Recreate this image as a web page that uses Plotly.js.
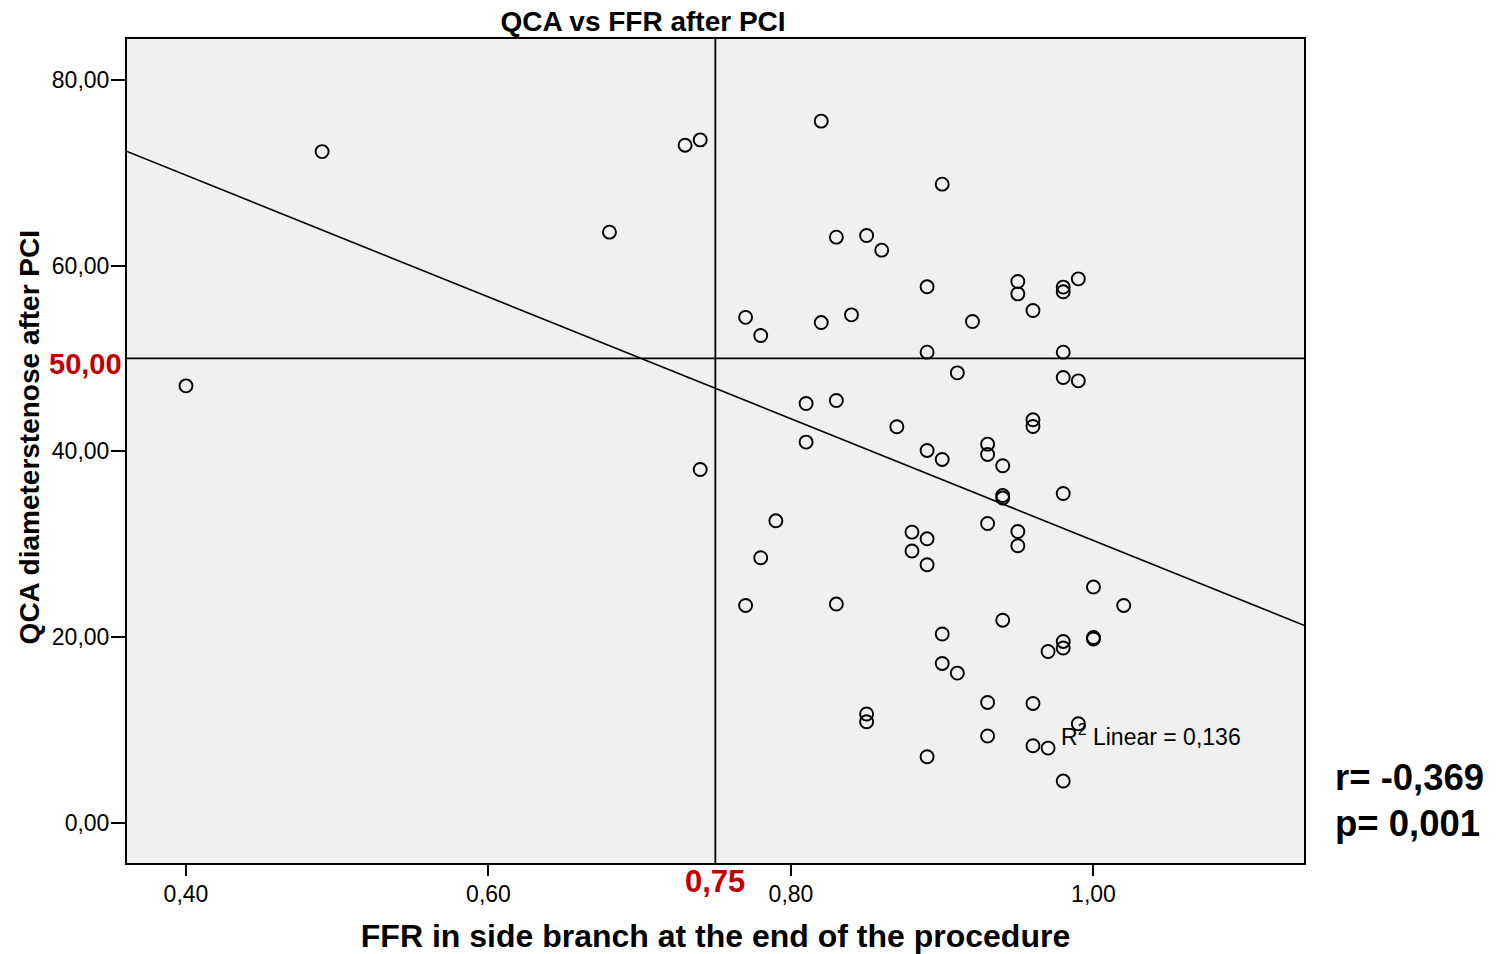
<!DOCTYPE html>
<html>
<head>
<meta charset="utf-8">
<script src="https://cdn.plot.ly/plotly-3.0.1.min.js"></script>
<style>
  html, body { margin: 0; padding: 0; background: #fff; overflow: hidden; }
</style>
</head>
<body>
<div id="chart" style="width:1501px;height:954px"></div>
<script>
// FFR measured in the side branch at the end of the procedure
const ffr = [
  0.40, 0.49, 0.68, 0.73, 0.74, 0.74, 0.77, 0.77, 0.78, 0.78,
  0.79, 0.81, 0.81, 0.82, 0.82, 0.83, 0.83, 0.83, 0.84, 0.85,
  0.85, 0.85, 0.86, 0.87, 0.88, 0.88, 0.89, 0.89, 0.89, 0.89,
  0.89, 0.89, 0.90, 0.90, 0.90, 0.90, 0.91, 0.91, 0.92, 0.93,
  0.93, 0.93, 0.93, 0.93, 0.94, 0.94, 0.94, 0.94, 0.95, 0.95,
  0.95, 0.95, 0.96, 0.96, 0.96, 0.96, 0.96, 0.97, 0.97, 0.98,
  0.98, 0.98, 0.98, 0.98, 0.98, 0.98, 0.98, 0.99, 0.99, 0.99,
  1.00, 1.00, 1.00, 1.02
];

// QCA diameter stenosis (%) after PCI, same order as ffr
const qcaStenosis = [
  47.05, 72.29, 63.61, 72.98, 73.55, 38.04, 54.43, 23.39, 52.47, 28.53,
  32.51, 45.15, 40.99, 75.57, 53.87, 63.07, 45.47, 23.54, 54.70, 63.25,
  11.69, 10.86, 61.67, 42.64, 31.29, 29.25, 57.72, 50.68, 40.09, 30.57,
  27.77,  7.09, 68.78, 39.12, 20.31, 17.14, 48.45, 16.10, 53.98, 40.77,
  39.66, 32.22, 12.94,  9.32, 38.44, 35.24, 34.96, 21.80, 58.29, 56.96,
  31.36, 29.82, 55.17, 43.39, 42.67, 12.83,  8.27, 18.43,  8.02, 57.69,
  57.18, 50.68, 47.95, 35.45, 19.51, 18.80,  4.47, 58.58, 47.59, 10.64,
  25.37, 19.94, 19.77, 23.39
];

const xTickVals = [0.40, 0.60, 0.80, 1.00];
const xTickText = ['0,40', '0,60', '0,80', '1,00'];
const yTickVals = [0, 20, 40, 60, 80];
const yTickText = ['0,00', '20,00', '40,00', '60,00', '80,00'];

// Cut-off reference values
const ffrCutoff = 0.75;
const ffrCutoffLabel = '0,75';
const stenosisCutoff = 50;
const stenosisCutoffLabel = '50,00';

// Linear fit of stenosis on FFR
const fitIntercept = 95.98;
const fitSlope = -65.6;
const fitLabel = 'R<sup>2</sup> Linear = 0,136';
const corrLabel = 'r= -0,369';
const pLabel = 'p= 0,001';

const chartTitle = 'QCA vs FFR after PCI';
const xTitle = 'FFR in side branch at the end of the procedure';
const yTitle = 'QCA diameterstenose after PCI';

const xRange = [0.361, 1.1392];
const yRange = [-4.36, 84.42];

const FONT = '"Liberation Sans", Arial, Helvetica, sans-serif';
const INK = '#000000';
const DARK_RED = '#c00000';

const points = {
  type: 'scatter',
  mode: 'markers',
  x: ffr,
  y: qcaStenosis,
  marker: { symbol: 'circle-open', size: 13, color: INK, line: { width: 1.9, color: INK } },
  hoverinfo: 'x+y'
};

const fitLine = {
  type: 'scatter',
  mode: 'lines',
  x: xRange,
  y: xRange.map(v => fitIntercept + fitSlope * v),
  line: { color: INK, width: 1.6 },
  hoverinfo: 'skip'
};

const axisBase = {
  ticks: 'outside',
  tickwidth: 2,
  tickcolor: INK,
  showline: true,
  mirror: true,
  linewidth: 2,
  linecolor: INK,
  showgrid: false,
  zeroline: false,
  tickfont: { family: FONT, size: 23, color: INK }
};

const layout = {
  width: 1501,
  height: 954,
  margin: { l: 127, r: 197, t: 39, b: 91 },
  paper_bgcolor: '#ffffff',
  plot_bgcolor: '#f0f0f0',
  showlegend: false,
  font: { family: FONT, color: INK },
  title: {
    text: chartTitle,
    font: { family: FONT, size: 28, weight: 'bold', color: INK },
    xref: 'container', x: 643 / 1501, xanchor: 'center',
    yref: 'container', y: 1 - 21 / 954, yanchor: 'middle'
  },
  xaxis: Object.assign({}, axisBase, {
    range: xRange,
    tickvals: xTickVals,
    ticktext: xTickText,
    ticklen: 11,
    ticklabelstandoff: -2,
    title: {
      text: xTitle,
      font: { family: FONT, size: 32, weight: 'bold', color: INK },
      standoff: 22
    }
  }),
  yaxis: Object.assign({}, axisBase, {
    range: yRange,
    tickvals: yTickVals,
    ticktext: yTickText,
    ticklen: 14,
    ticklabelstandoff: -3
  }),
  shapes: [
    { type: 'line', xref: 'x', yref: 'paper', x0: ffrCutoff, x1: ffrCutoff, y0: 0, y1: 1,
      line: { color: INK, width: 1.8 } },
    { type: 'line', xref: 'paper', yref: 'y', x0: 0, x1: 1, y0: stenosisCutoff, y1: stenosisCutoff,
      line: { color: INK, width: 1.8 } }
  ],
  annotations: [
    // vertical axis title, set a little above the plot centre
    { xref: 'paper', yref: 'paper', x: -0.0825, y: 0.5164, xanchor: 'center', yanchor: 'middle',
      textangle: -90, text: yTitle, showarrow: false,
      font: { family: FONT, size: 28, weight: 'bold', color: INK } },
    { xref: 'x', yref: 'paper', x: ffrCutoff, y: -0.023, xanchor: 'center', yanchor: 'middle',
      text: ffrCutoffLabel, showarrow: false,
      font: { family: FONT, size: 31, weight: 'bold', color: DARK_RED } },
    { xref: 'paper', yref: 'y', x: -0.0025, y: stenosisCutoff, yshift: -6, xanchor: 'right', yanchor: 'middle',
      text: stenosisCutoffLabel, showarrow: false,
      font: { family: FONT, size: 29, weight: 'bold', color: DARK_RED } },
    { xref: 'x', yref: 'y', x: 0.9774, y: 9.43, xanchor: 'left', yanchor: 'middle',
      text: fitLabel, showarrow: false,
      font: { family: FONT, size: 23, color: INK } },
    { xref: 'paper', yref: 'paper', x: 1.0245, y: 0.1032, xanchor: 'left', yanchor: 'middle',
      text: corrLabel, showarrow: false,
      font: { family: FONT, size: 36.5, weight: 'bold', color: INK } },
    { xref: 'paper', yref: 'paper', x: 1.0245, y: 0.0485, xanchor: 'left', yanchor: 'middle',
      text: pLabel, showarrow: false,
      font: { family: FONT, size: 36.5, weight: 'bold', color: INK } }
  ]
};

Plotly.newPlot('chart', [fitLine, points], layout, { staticPlot: true, displayModeBar: false });
</script>
</body>
</html>
